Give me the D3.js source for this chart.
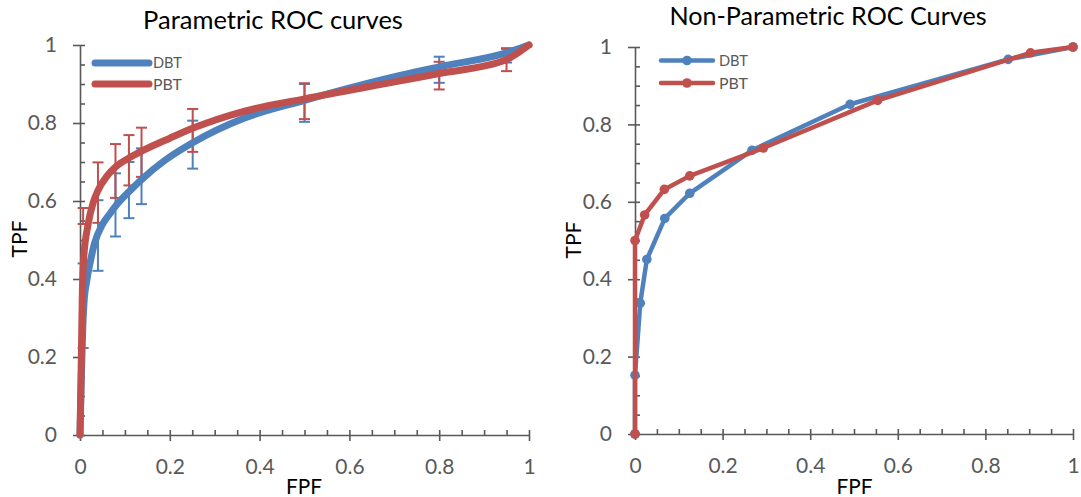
<!DOCTYPE html>
<html>
<head>
<meta charset="utf-8">
<script src="https://cdn.jsdelivr.net/npm/d3@7"></script>
<style>
  html, body { margin: 0; padding: 0; background: #fff; }
  svg { display: block; }
</style>
</head>
<body>
<svg id="chart" width="1081" height="497"></svg>
<script>
// ---- data -------------------------------------------------------------
const axisTicks = [0, 0.2, 0.4, 0.6, 0.8, 1];
const tickLabels = ["0", "0.2", "0.4", "0.6", "0.8", "1"];
const minorTicks = d3.range(0, 1.0001, 0.05);
const seriesNames = ["DBT", "PBT"];

// fitted (parametric) ROC curves
const dbtFitFpf = [0, 0.003, 0.006, 0.009, 0.015, 0.024, 0.032, 0.05, 0.067, 0.08, 0.11, 0.137, 0.19, 0.252, 0.365, 0.5, 0.713, 0.8, 0.949, 0.973, 1];
const dbtFitTpf = [0, 0.15, 0.27, 0.34, 0.395, 0.45, 0.49, 0.54, 0.568, 0.588, 0.625, 0.655, 0.705, 0.75, 0.812, 0.858, 0.922, 0.944, 0.98, 0.989, 1];
const pbtFitFpf = [0, 0.003, 0.005, 0.008, 0.018, 0.03, 0.04, 0.06, 0.08, 0.109, 0.136, 0.2, 0.252, 0.365, 0.5, 0.713, 0.8, 0.949, 0.973, 1];
const pbtFitTpf = [0, 0.2, 0.35, 0.45, 0.54, 0.598, 0.627, 0.664, 0.688, 0.71, 0.727, 0.761, 0.787, 0.83, 0.862, 0.908, 0.927, 0.962, 0.978, 1];

// confidence intervals at the operating points
const ciFpf   = [0.007, 0.04, 0.079, 0.109, 0.137, 0.251, 0.5, 0.8, 0.95];
const dbtLow  = [0.223, 0.421, 0.509, 0.556, 0.592, 0.683, 0.803, 0.903, 0.955];
const dbtHigh = [0.44, 0.602, 0.671, 0.70, 0.735, 0.806, 0.90, 0.970, 0.992];
const pbtLow  = [0.541, 0.544, 0.608, 0.64, 0.662, 0.726, 0.810, 0.886, 0.933];
const pbtHigh = [0.582, 0.699, 0.746, 0.769, 0.788, 0.836, 0.902, 0.957, 0.99];

// empirical (non-parametric) ROC points
const dbtEmpFpf = [0, 0, 0.012, 0.027, 0.068, 0.125, 0.267, 0.491, 0.852, 1];
const dbtEmpTpf = [0, 0.152, 0.338, 0.451, 0.557, 0.622, 0.733, 0.852, 0.968, 1];
const pbtEmpFpf = [0, 0, 0.022, 0.067, 0.125, 0.293, 0.554, 0.903, 1];
const pbtEmpTpf = [0, 0.5, 0.566, 0.632, 0.667, 0.739, 0.862, 0.985, 1];

// ---- style ------------------------------------------------------------
const BLUE = "#4f81bd", RED = "#c0504d", AXIS = "#595959";
const FONT = "Lato, 'Open Sans', sans-serif";

const svg = d3.select("#chart");

// scale a text node's font size so its rendered width hits a target
function fitWidth(text, width) {
  text.attr("font-size", 100);
  const w = text.node().getComputedTextLength();
  text.attr("font-size", 100 * width / w);
  return text;
}

function drawAxes(x, y) {
  const g = svg.append("g");
  const x0 = x(0), y0 = y(0);

  // bottom axis: outer part of the major ticks + labels
  g.append("g").attr("transform", `translate(0,${y0})`)
    .call(d3.axisBottom(x).tickValues(axisTicks)
      .tickFormat((d, i) => tickLabels[i])
      .tickSizeInner(6).tickSizeOuter(0).tickPadding(18));
  // inner ticks (major + minor)
  g.append("g").attr("transform", `translate(0,${y0})`)
    .call(d3.axisBottom(x).tickValues(minorTicks).tickSize(-5).tickFormat(""))
    .call(a => a.select(".domain").remove());

  g.append("g").attr("transform", `translate(${x0},0)`)
    .call(d3.axisLeft(y).tickValues(axisTicks)
      .tickFormat((d, i) => tickLabels[i])
      .tickSizeInner(7).tickSizeOuter(0).tickPadding(16));
  g.append("g").attr("transform", `translate(${x0},0)`)
    .call(d3.axisRight(y).tickValues(minorTicks).tickSize(5).tickFormat(""))
    .call(a => a.select(".domain").remove());

  g.selectAll(".domain, .tick line").attr("stroke", AXIS).attr("stroke-width", 1.6);
  g.selectAll(".tick text").attr("fill", AXIS).attr("font-family", FONT).attr("font-size", 21);
  return g;
}

function titles(title, titleX, titleW, titleBase, fpfX, tpfX, tpfY) {
  fitWidth(svg.append("text").text(title)
    .attr("x", titleX).attr("y", titleBase)
    .attr("text-anchor", "middle").attr("font-family", FONT).attr("fill", "#000"), titleW);
  fitWidth(svg.append("text").text("FPF")
    .attr("x", fpfX).attr("y", 494)
    .attr("text-anchor", "middle").attr("font-family", FONT).attr("fill", "#000"), 36);
  fitWidth(svg.append("text").text("TPF")
    .attr("transform", `translate(${tpfX},${tpfY}) rotate(-90)`)
    .attr("text-anchor", "middle").attr("font-family", FONT).attr("fill", "#000"), 37);
}

// ---- left panel: parametric curves -------------------------------------
const lx = d3.scaleLinear([0, 1], [80, 529]);
const ly = d3.scaleLinear([0, 1], [435, 45]);
drawAxes(lx, ly);

const lLine = d3.line().x(d => lx(d[0])).y(d => ly(d[1])).curve(d3.curveMonotoneX);

function errorBars(fpf, lo, hi, color) {
  const g = svg.append("g").attr("stroke", color).attr("stroke-width", 2).attr("fill", "none");
  fpf.forEach((f, i) => {
    const cx = lx(f);
    g.append("line").attr("x1", cx).attr("x2", cx).attr("y1", ly(lo[i])).attr("y2", ly(hi[i]));
    [lo[i], hi[i]].forEach(v => g.append("line")
      .attr("x1", cx - 5.5).attr("x2", cx + 5.5).attr("y1", ly(v)).attr("y2", ly(v)));
  });
}
errorBars(ciFpf, dbtLow, dbtHigh, BLUE);
errorBars(ciFpf, pbtLow, pbtHigh, RED);

svg.append("path").datum(d3.zip(dbtFitFpf, dbtFitTpf)).attr("d", lLine)
  .attr("fill", "none").attr("stroke", BLUE).attr("stroke-width", 7)
  .attr("stroke-linecap", "round").attr("stroke-linejoin", "round");
svg.append("path").datum(d3.zip(pbtFitFpf, pbtFitTpf)).attr("d", lLine)
  .attr("fill", "none").attr("stroke", RED).attr("stroke-width", 7)
  .attr("stroke-linecap", "round").attr("stroke-linejoin", "round");

// left legend
[BLUE, RED].forEach((c, i) => {
  const yy = [63, 84][i];
  svg.append("line").attr("x1", 95).attr("x2", 149).attr("y1", yy).attr("y2", yy)
    .attr("stroke", c).attr("stroke-width", 7).attr("stroke-linecap", "round");
  fitWidth(svg.append("text").text(seriesNames[i]).attr("x", 153).attr("y", yy)
    .attr("dy", "0.36em").attr("font-family", FONT).attr("fill", AXIS), 29);
});

titles("Parametric ROC curves", 273, 260, 29, 304, 27, 239);

// ---- right panel: empirical curves -------------------------------------
const rx = d3.scaleLinear([0, 1], [635, 1073]);
const ry = d3.scaleLinear([0, 1], [434, 47]);
drawAxes(rx, ry);

const rLine = d3.line().x(d => rx(d[0])).y(d => ry(d[1]));
function empirical(fpf, tpf, color) {
  const pts = d3.zip(fpf, tpf);
  svg.append("path").datum(pts).attr("d", rLine)
    .attr("fill", "none").attr("stroke", color).attr("stroke-width", 4.5)
    .attr("stroke-linejoin", "round").attr("stroke-linecap", "round");
  svg.append("g").selectAll("circle").data(pts).join("circle")
    .attr("cx", d => rx(d[0])).attr("cy", d => ry(d[1])).attr("r", 4.8).attr("fill", color);
}
empirical(dbtEmpFpf, dbtEmpTpf, BLUE);
empirical(pbtEmpFpf, pbtEmpTpf, RED);

// right legend
[BLUE, RED].forEach((c, i) => {
  const yy = [60.5, 83][i];
  svg.append("line").attr("x1", 661).attr("x2", 713).attr("y1", yy).attr("y2", yy)
    .attr("stroke", c).attr("stroke-width", 4.5).attr("stroke-linecap", "round");
  svg.append("circle").attr("cx", 687).attr("cy", yy).attr("r", 4.8).attr("fill", c);
  fitWidth(svg.append("text").text(seriesNames[i]).attr("x", 719).attr("y", yy)
    .attr("dy", "0.36em").attr("font-family", FONT).attr("fill", AXIS), 29);
});

titles("Non-Parametric ROC Curves", 828, 317.5, 24.5, 854.6, 581, 240);
</script>
</body>
</html>
